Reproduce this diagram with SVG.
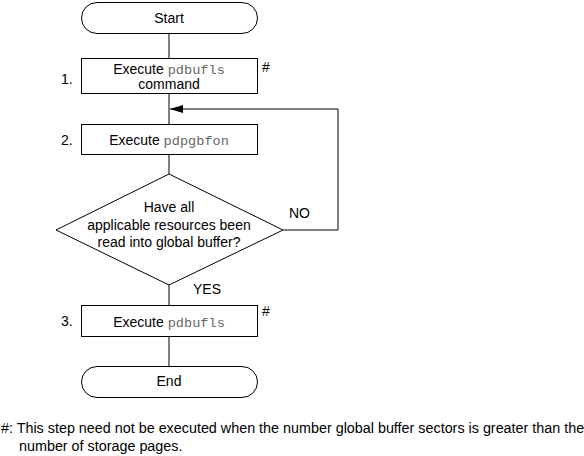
<svg xmlns="http://www.w3.org/2000/svg" width="584" height="456" viewBox="0 0 584 456">
<defs>
<style>
.s{fill:#fff;stroke:#000;stroke-width:1}
.t{font-family:"Liberation Sans",Arial,sans-serif;font-size:14px;fill:#000}
.c{text-anchor:middle}
.m{font-family:"Liberation Mono","Courier New",monospace;font-size:13.6px;fill:#666}
.l{fill:none;stroke:#000;stroke-width:1}
.f{font-size:14.35px}
</style>
<marker id="ah" markerWidth="13" markerHeight="8" refX="13" refY="4" orient="auto" markerUnits="userSpaceOnUse">
<path d="M0,0 L13,4 L0,8 Z" fill="#000"/>
</marker>
</defs>
<g id="connectors">
<line class="l" x1="169" y1="33" x2="169" y2="58"/>
<line class="l" x1="169" y1="93" x2="169" y2="124"/>
<line class="l" x1="169" y1="154" x2="169" y2="174"/>
<line class="l" x1="169" y1="285" x2="169" y2="305"/>
<line class="l" x1="169" y1="336" x2="169" y2="366"/>
<polyline class="l" points="283,230 338,230 338,109 170,109" marker-end="url(#ah)"/>
<text class="t" x="289" y="218">NO</text>
<text class="t" x="193" y="294">YES</text>
</g>
<g id="start">
<rect class="s" x="81.5" y="2.5" width="176" height="31" rx="15.5" ry="15.5"/>
<text class="t c" x="169" y="23">Start</text>
</g>
<g id="step1">
<rect class="s" x="81.5" y="58.5" width="176" height="35"/>
<text class="t c" x="169" y="74">Execute <tspan class="m">pdbufls</tspan></text>
<text class="t c" x="169" y="89">command</text>
<text class="t" x="61" y="84">1.</text>
<text class="t" x="262" y="72">#</text>
</g>
<g id="step2">
<rect class="s" x="81.5" y="124.5" width="176" height="30"/>
<text class="t c" x="169" y="145">Execute <tspan class="m">pdpgbfon</tspan></text>
<text class="t" x="61" y="145">2.</text>
</g>
<g id="decision">
<polygon class="s" points="169,174 283,230 169,285 56,230"/>
<text class="t c" x="169" y="212">Have all</text>
<text class="t c" x="169" y="230">applicable resources been</text>
<text class="t c" x="169" y="247">read into global buffer?</text>
</g>
<g id="step3">
<rect class="s" x="81.5" y="305.5" width="176" height="31"/>
<text class="t c" x="169" y="327">Execute <tspan class="m">pdbufls</tspan></text>
<text class="t" x="61" y="326">3.</text>
<text class="t" x="262" y="316">#</text>
</g>
<g id="end">
<rect class="s" x="81.5" y="366.5" width="176" height="31" rx="15.5" ry="15.5"/>
<text class="t c" x="169" y="386">End</text>
</g>
<g id="footnote">
<text class="t f" x="1" y="433">#: This step need not be executed when the number global buffer sectors is greater than the</text>
<text class="t f" x="19" y="451">number of storage pages.</text>
</g>
</svg>
